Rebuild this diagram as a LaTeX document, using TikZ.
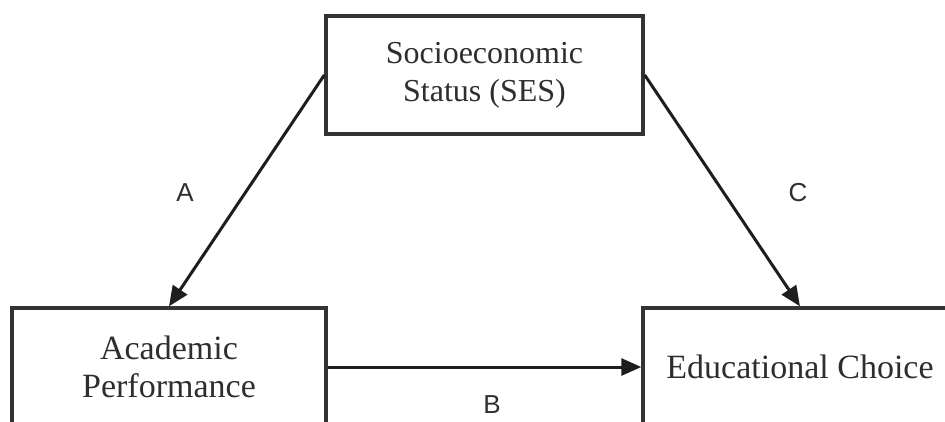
\documentclass[tikz,border=0pt]{standalone}
\usepackage{fontspec}
\setmainfont{Liberation Serif}
\newfontfamily\labelfont{Liberation Sans}
\usetikzlibrary{arrows.meta}
\definecolor{boxline}{HTML}{333333}
\definecolor{arrowline}{HTML}{1E1E1E}
\definecolor{txt}{HTML}{2E2E2E}
\tikzset{
  varbox/.style={draw=boxline, line width=3.4pt, fill=white, minimum width=314pt, minimum height=118pt,
    align=center, text=txt, inner sep=0pt, font=\fontsize{34}{38}\selectfont},
  conn/.style={draw=arrowline, line width=3pt, -{Triangle[length=20pt,width=17pt]}},
  pathlabel/.style={text=txt, font=\labelfont\fontsize{26}{28}\selectfont, inner sep=0pt}
}
\begin{document}
\begin{tikzpicture}[x=1pt,y=-1pt]
\clip (0,0) rectangle (945,421);
\fill[white] (0,0) rectangle (945,421);
\node[varbox, minimum width=317pt, font=\fontsize{32}{38}\selectfont] (ses) at (484.5,75) {Socioeconomic\\Status (SES)};
\node[varbox] (acad) at (169,367) {Academic\\Performance};
\node[varbox] (edu) at (800,367) {Educational Choice};
\draw[conn] (ses.west) -- (acad.north);
\draw[conn] (ses.east) -- (edu.north);
\draw[conn] (acad.east) -- (edu.west);
\node[pathlabel] (la) at (185,193) {A};
\node[pathlabel] (lc) at (798,193) {C};
\node[pathlabel] (lb) at (492,405) {B};
\end{tikzpicture}
\end{document}
